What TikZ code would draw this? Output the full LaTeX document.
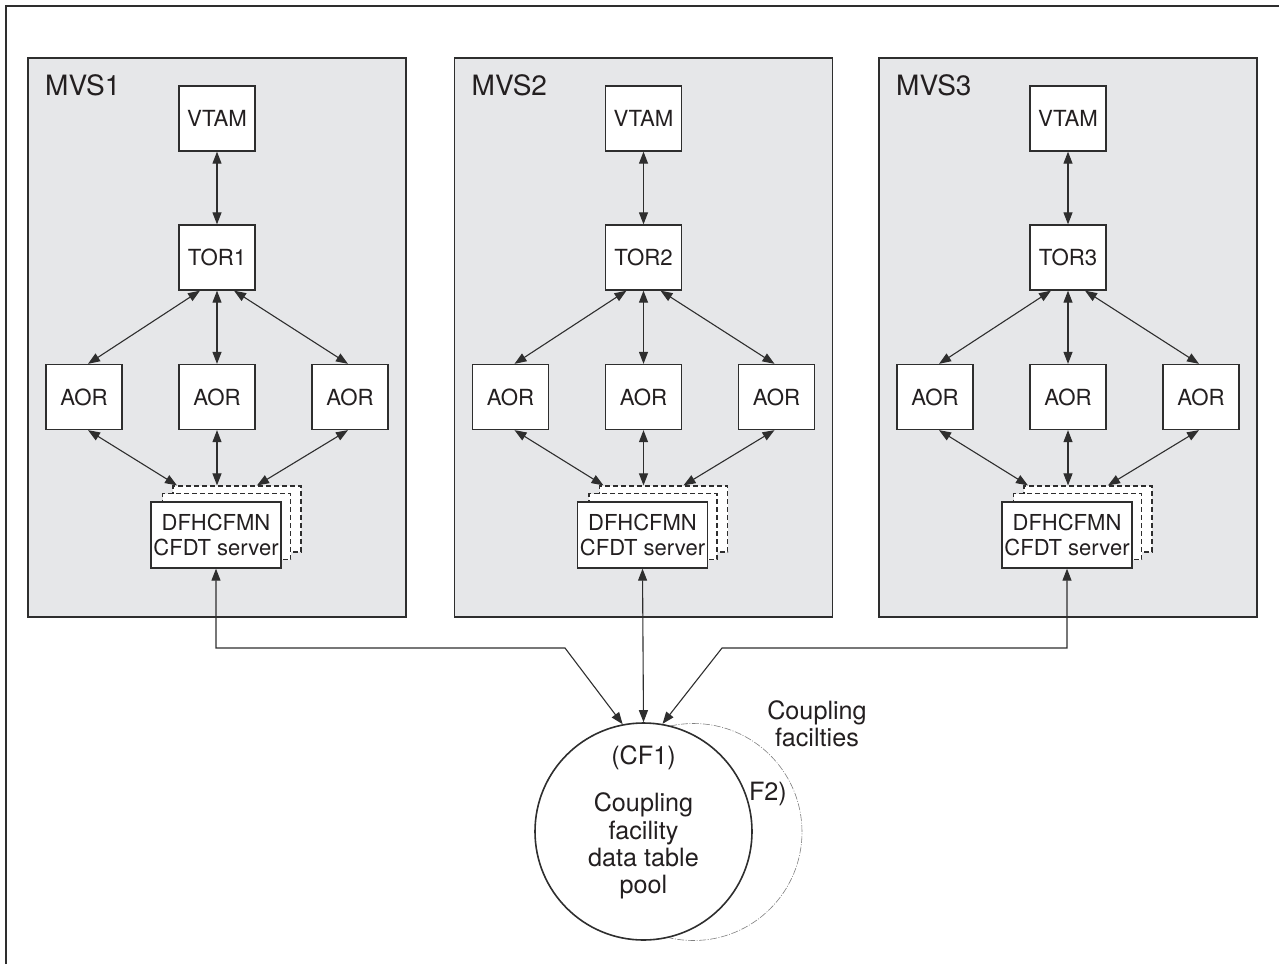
\documentclass[tikz,border=0pt]{standalone}
\usepackage{fontspec}
\setmainfont{TeX Gyre Heros}
\usetikzlibrary{arrows.meta}
\definecolor{panelfill}{HTML}{E6E7E9}
\definecolor{edge}{HTML}{2E2E2E}
\definecolor{ink}{HTML}{231F20}
\tikzset{
  panel/.style={draw=edge, line width=1.6pt, fill=panelfill},
  box/.style={draw=edge, line width=1.3pt, fill=white, minimum width=76pt, minimum height=65pt,
    inner sep=0pt, text=ink, font=\fontsize{22.2}{26}\selectfont},
  dfhbox/.style={box, minimum width=130pt, minimum height=66pt, align=center,
    font=\fontsize{22}{25}\selectfont},
  ghost/.style={draw=edge, line width=1.2pt, dash pattern=on 5pt off 3pt, fill=white,
    minimum width=128pt, minimum height=66pt, inner sep=0pt},
  link/.style={draw=edge, line width=1.1pt,
    {Triangle[length=12pt,width=9pt]}-{Triangle[length=12pt,width=9pt]}},
  mvs/.style={anchor=base west, inner sep=0pt, text=ink, font=\fontsize{28}{30}\selectfont},
  cftext/.style={text=ink, inner sep=0pt, align=center, font=\fontsize{25.2}{27.2}\selectfont},
}
\begin{document}
\begin{tikzpicture}[x=1pt,y=-1pt]
\useasboundingbox (0,0) rectangle (1279,964);
\draw[edge, line width=1.6pt] (6,964) -- (6,6) -- (1279,6);

\foreach \i/\dx in {1/0,2/426.5,3/851} {
  \begin{scope}[xshift=\dx]
    \draw[panel] (28,58) rectangle (406,617);
    \node[mvs] (mvs\i) at (45,95) {MVS\i};
    \node[box] (vtam\i) at (217,118.5) {VTAM};
    \node[box] (tor\i) at (217,257.5) {TOR\i};
    \node[box] (aorA\i) at (84,397) {AOR};
    \node[box] (aorB\i) at (217,397) {AOR};
    \node[box] (aorC\i) at (350,397) {AOR};
    \node[ghost] (gb\i) at (237,519) {};
    \node[ghost] (ga\i) at (226.5,526.5) {};
    \node[dfhbox] (dfh\i) at (216,535) {DFHCFMN\\CFDT server};
    \draw[link] (vtam\i) -- (tor\i);
    \draw[link] ([xshift=-17pt]tor\i.south) -- ([xshift=4pt]aorA\i.north);
    \draw[link] (tor\i) -- (aorB\i);
    \draw[link] ([xshift=17pt]tor\i.south) -- ([xshift=-2pt]aorC\i.north);
    \draw[link] ([xshift=4pt]aorA\i.south) -- ([xshift=-60pt]gb\i.north);
    \draw[link] (aorB\i) -- (aorB\i |- gb\i.north);
    \draw[link] ([xshift=-2pt]aorC\i.south) -- ([xshift=20pt]gb\i.north);
  \end{scope}
}

% coupling facilities
\node[circle, draw=gray, line width=0.6pt, dash pattern=on 7pt off 1.5pt on 1pt off 1.5pt,
  minimum size=217pt, inner sep=0pt] (cf2) at (693.5,832) {};
\node[cftext, anchor=east] (cf2lbl) at (787,794) {F2)};
\node[circle, draw=edge, line width=1.6pt, fill=white, minimum size=217pt, inner sep=0pt]
  (cf1) at (643.5,831.5) {};
\node[cftext] (cf1name) at (643.5,758) {(CF1)};
\node[cftext] (cf1desc) at (643.5,846) {Coupling\\facility\\data table\\pool};
\node[cftext] (cflabel) at (817,723.5) {Coupling\\facilties};

\coordinate (k1) at (565,648);
\coordinate (k3) at (722,648);
\draw[link] (dfh1.south) |- (k1) -- (cf1.101);
\draw[link] (dfh2.south) -- (cf1.north);
\draw[link] (dfh3.south) |- (k3) -- (cf1.80);
\end{tikzpicture}
\end{document}
